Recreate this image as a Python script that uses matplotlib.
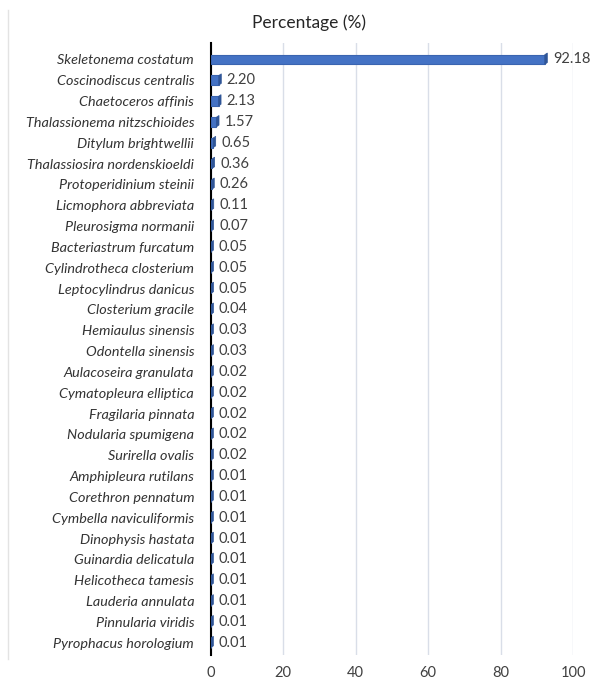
import matplotlib
matplotlib.use("Agg")
import matplotlib.pyplot as plt
from matplotlib.lines import Line2D
from matplotlib.patches import Polygon

species = [
    "Skeletonema costatum", "Coscinodiscus centralis", "Chaetoceros affinis",
    "Thalassionema nitzschioides", "Ditylum brightwellii", "Thalassiosira nordenskioeldi",
    "Protoperidinium steinii", "Licmophora abbreviata", "Pleurosigma normanii",
    "Bacteriastrum furcatum", "Cylindrotheca closterium", "Leptocylindrus danicus",
    "Closterium gracile", "Hemiaulus sinensis", "Odontella sinensis",
    "Aulacoseira granulata", "Cymatopleura elliptica", "Fragilaria pinnata",
    "Nodularia spumigena", "Surirella ovalis", "Amphipleura rutilans",
    "Corethron pennatum", "Cymbella naviculiformis", "Dinophysis hastata",
    "Guinardia delicatula", "Helicotheca tamesis", "Lauderia annulata",
    "Pinnularia viridis", "Pyrophacus horologium",
]
pct = [92.18, 2.20, 2.13, 1.57, 0.65, 0.36, 0.26, 0.11, 0.07, 0.05, 0.05, 0.05,
       0.04, 0.03, 0.03, 0.02, 0.02, 0.02, 0.02, 0.02, 0.01, 0.01, 0.01, 0.01,
       0.01, 0.01, 0.01, 0.01, 0.01]
xticks = [0, 20, 40, 60, 80, 100]

plt.rcParams["font.family"] = ["Lato", "DejaVu Sans"]

fig = plt.figure(figsize=(6.11, 6.79), dpi=100)
ax = fig.add_axes([0.345, 0.035, 0.593, 0.902])

y = list(range(len(species)))
h = 0.46
ax.barh(y, pct, height=h, color="#4472C4", edgecolor="#3A64B0",
        linewidth=0.8, zorder=3)
# shaded end face to give the bars some depth, as in the 3-D style
dx, dy = 0.7, 0.08
for yi, v in zip(y, pct):
    face = Polygon([(v, yi - h / 2), (v + dx, yi - h / 2 - dy),
                    (v + dx, yi + h / 2 - dy), (v, yi + h / 2)],
                   closed=True, facecolor="#2F5597", edgecolor="#2F5597",
                   linewidth=0.5, zorder=3)
    ax.add_patch(face)
    ax.text(v + dx + 1.5, yi, f"{v:.2f}", va="center", ha="left",
            fontsize=10.5, color="#404040", zorder=4)

ax.set_yticks(y)
ax.set_yticklabels(species, fontstyle="italic", fontsize=10.4, color="#333333")
ax.set_xticks(xticks)
ax.set_xticklabels([str(t) for t in xticks], fontsize=10.5, color="#404040")
ax.set_xlim(0, 100)
ax.set_ylim(len(species) - 0.4, -0.8)
ax.tick_params(length=0, pad=12)
ax.tick_params(axis="x", pad=8)
ax.xaxis.grid(True, color="#D9DEE8", linewidth=1)
ax.set_axisbelow(True)
for s in ["top", "right", "bottom"]:
    ax.spines[s].set_visible(False)
ax.spines["left"].set_color("black")
ax.spines["left"].set_linewidth(1.5)
ax.spines["left"].set_zorder(2)

fig.text(0.505, 0.967, "Percentage (%)", ha="center", va="center",
         fontsize=12.5, color="#262626")
# thin chart-area border on the left
fig.add_artist(Line2D([0.013, 0.013], [0.03, 0.985], color="#E3E3E3",
                      linewidth=1, transform=fig.transFigure))

fig.savefig("out.png", dpi=100)
